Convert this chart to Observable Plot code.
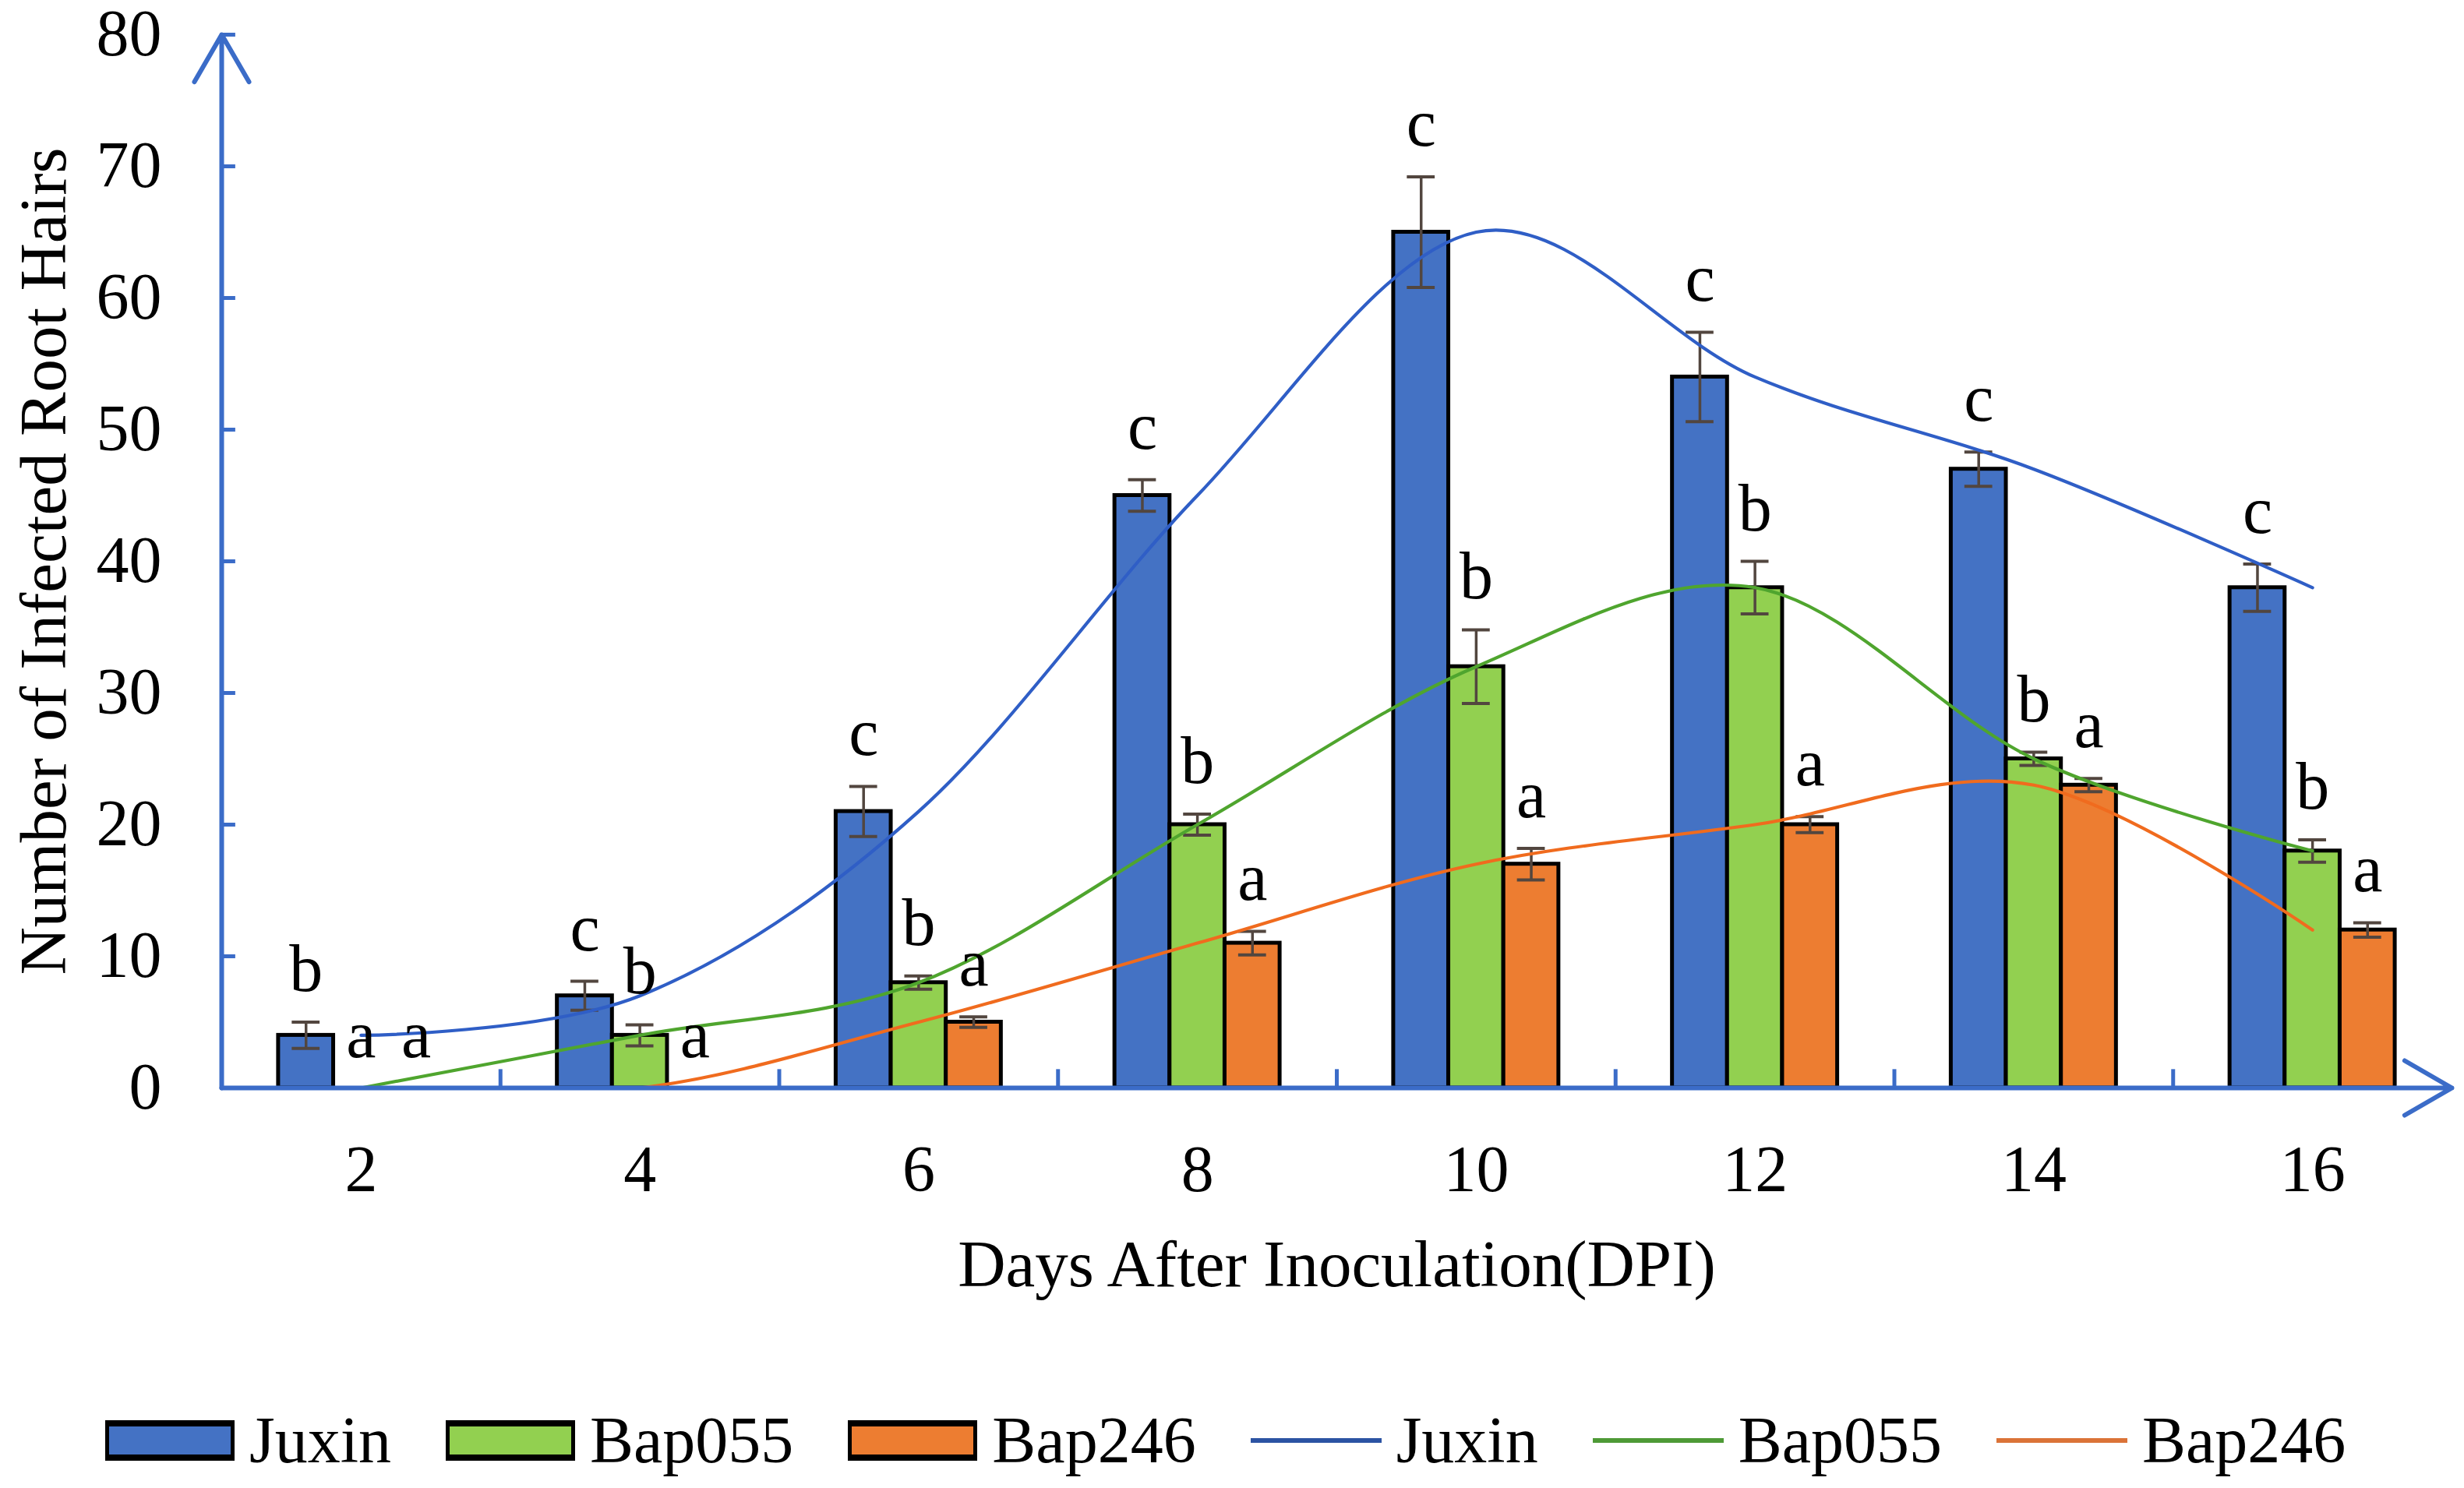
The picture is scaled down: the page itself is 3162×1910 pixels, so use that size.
<!DOCTYPE html>
<html>
<head>
<meta charset="utf-8">
<script src="https://cdn.jsdelivr.net/npm/d3@7"></script>
<script src="https://cdn.jsdelivr.net/npm/@observablehq/plot@0.6"></script>
<style>
  html, body { margin: 0; padding: 0; background: #fff; overflow: hidden; }
  #legend { display: flex; align-items: center; height: 150px; box-sizing: border-box;
            padding: 28px 0 0 135px; font-family: "Liberation Serif", serif; font-size: 84px; line-height: 1; color: #000; }
  .item { display: flex; align-items: center; margin-right: 70px; }
  .box { width: 166px; height: 52px; box-sizing: border-box; border-style: solid; border-color: #000; border-width: 8px 5px; }
  .ln { width: 168px; height: 6px; }
  .lab { margin-left: 19px; }
</style>
</head>
<body>
<div id="chart"></div>
<div id="legend"></div>
<script>
// ---- data ----
const days = [2, 4, 6, 8, 10, 12, 14, 16];
const seriesNames = ["Juxin", "Bap055", "Bap246"];
const juxin  = [4, 7, 21, 45, 65, 54, 47, 38];
const bap055 = [0, 4, 8, 20, 32, 38, 25, 18];
const bap246 = [0, 0, 5, 11, 17, 20, 23, 12];
const juxinErr  = [1.0, 1.1, 1.9, 1.2, 4.2, 3.4, 1.3, 1.8];
const bap055Err = [0, 0.8, 0.5, 0.8, 2.8, 2.0, 0.5, 0.85];
const bap246Err = [0, 0, 0.4, 0.9, 1.2, 0.6, 0.5, 0.55];
const juxinSig  = ["b", "c", "c", "c", "c", "c", "c", "c"];
const bap055Sig = ["a", "b", "b", "b", "b", "b", "b", "b"];
const bap246Sig = ["a", "a", "a", "a", "a", "a", "a", "a"];
const yTicks = [0, 10, 20, 30, 40, 50, 60, 70, 80];
const xTicks = days;
const xTitle = "Days After Inoculation(DPI)";
const yTitle = "Number of Infected Root Hairs";

// ---- styles ----
const barColors  = ["#4472C4", "#92D050", "#ED7D31"];
const lineColors = ["#2F5EC6", "#4FA52E", "#F06B1E"];
const legendLineColors = ["#2C53A3", "#4E9A36", "#DB7338"];
const axisColor = "#3B6CC8";
const errColor = "#52463f";
const font = "Liberation Serif";
const xDomain = [1, 17];
const yDomain = [0, 80];
const barW = 0.395;      // bar width in day units
const capHalf = 0.1;     // half cap width in day units

const valuesBy = [juxin, bap055, bap246];
const errBy = [juxinErr, bap055Err, bap246Err];
const sigBy = [juxinSig, bap055Sig, bap246Sig];

const rowsBy = seriesNames.map((s, i) => days.map((d, j) => ({
  day: d, series: s, i, value: valuesBy[i][j], err: errBy[i][j], sig: sigBy[i][j]
})));
const center = d => d.day + (d.i - 1) * barW;

const marks = [];
// bars
rowsBy.forEach((rows, i) => {
  marks.push(Plot.rect(rows.filter(d => d.value > 0), {
    x1: d => center(d) - barW / 2, x2: d => center(d) + barW / 2,
    y1: () => 0, y2: "value",
    fill: barColors[i], stroke: "#000", strokeWidth: 5
  }));
});
// error bars
rowsBy.forEach((rows) => {
  const r = rows.filter(d => d.err > 0);
  marks.push(Plot.ruleX(r, {x: center, y1: d => d.value - d.err, y2: d => d.value + d.err, stroke: errColor, strokeWidth: 3.5}));
  marks.push(Plot.ruleY(r, {y: d => d.value + d.err, x1: d => center(d) - capHalf, x2: d => center(d) + capHalf, stroke: errColor, strokeWidth: 4}));
  marks.push(Plot.ruleY(r, {y: d => d.value - d.err, x1: d => center(d) - capHalf, x2: d => center(d) + capHalf, stroke: errColor, strokeWidth: 4}));
});
// smoothed lines
rowsBy.forEach((rows, i) => {
  marks.push(Plot.line(rows, {x: "day", y: "value", curve: "cardinal", stroke: lineColors[i], strokeWidth: 4.2, clip: true}));
});
// significance letters
rowsBy.forEach((rows) => {
  marks.push(Plot.text(rows, {x: center, y: d => d.value + d.err, text: "sig", dy: -40, lineAnchor: "bottom",
    fontSize: 86, fontFamily: font, fill: "#000"}));
});
// axes
marks.push(Plot.ruleX(xTicks.slice(1).map(d => d - 1), {y1: () => 0, y2: () => 1.4, stroke: axisColor, strokeWidth: 5}));
marks.push(Plot.ruleY(yTicks.slice(1), {x1: () => xDomain[0], x2: () => xDomain[0] + 0.1, stroke: axisColor, strokeWidth: 5}));
marks.push(Plot.arrow([0], {x1: () => xDomain[0], y1: () => yDomain[0], x2: () => xDomain[0], y2: () => yDomain[1],
  stroke: axisColor, strokeWidth: 6, headLength: 17.5}));
marks.push(Plot.arrow([0], {x1: () => xDomain[0], y1: () => yDomain[0], x2: () => xDomain[1], y2: () => yDomain[0],
  stroke: axisColor, strokeWidth: 6, headLength: 17.5}));
marks.push(Plot.axisY({ticks: yTicks, tickSize: 0, tickPadding: 77, fontSize: 84, fontFamily: font, label: null}));
marks.push(Plot.axisX({ticks: xTicks, tickSize: 0, tickPadding: 73, fontSize: 84, fontFamily: font, label: null}));
marks.push(Plot.text([yTitle], {frameAnchor: "left", textAnchor: "middle", lineAnchor: "middle", dx: -228, rotate: -90,
  fontSize: 85, fontFamily: font, fill: "#000"}));
marks.push(Plot.text([xTitle], {frameAnchor: "bottom", textAnchor: "middle", dy: 227, lineAnchor: "middle",
  fontSize: 85, fontFamily: font, fill: "#000"}));

const chart = Plot.plot({
  width: 3162, height: 1760,
  marginLeft: 284, marginRight: 16, marginTop: 44, marginBottom: 364,
  x: {type: "linear", domain: xDomain},
  y: {type: "linear", domain: yDomain},
  style: {fontFamily: font, background: "#fff", overflow: "visible", color: "#000"},
  marks
});
document.getElementById("chart").appendChild(chart);

// legend
const legend = document.getElementById("legend");
seriesNames.forEach((s, i) => {
  const it = document.createElement("div"); it.className = "item";
  it.innerHTML = `<span class="box" style="background:${barColors[i]}"></span><span class="lab">${s}</span>`;
  legend.appendChild(it);
});
seriesNames.forEach((s, i) => {
  const it = document.createElement("div"); it.className = "item";
  it.innerHTML = `<span class="ln" style="background:${legendLineColors[i]}"></span><span class="lab">${s}</span>`;
  legend.appendChild(it);
});
</script>
</body>
</html>
